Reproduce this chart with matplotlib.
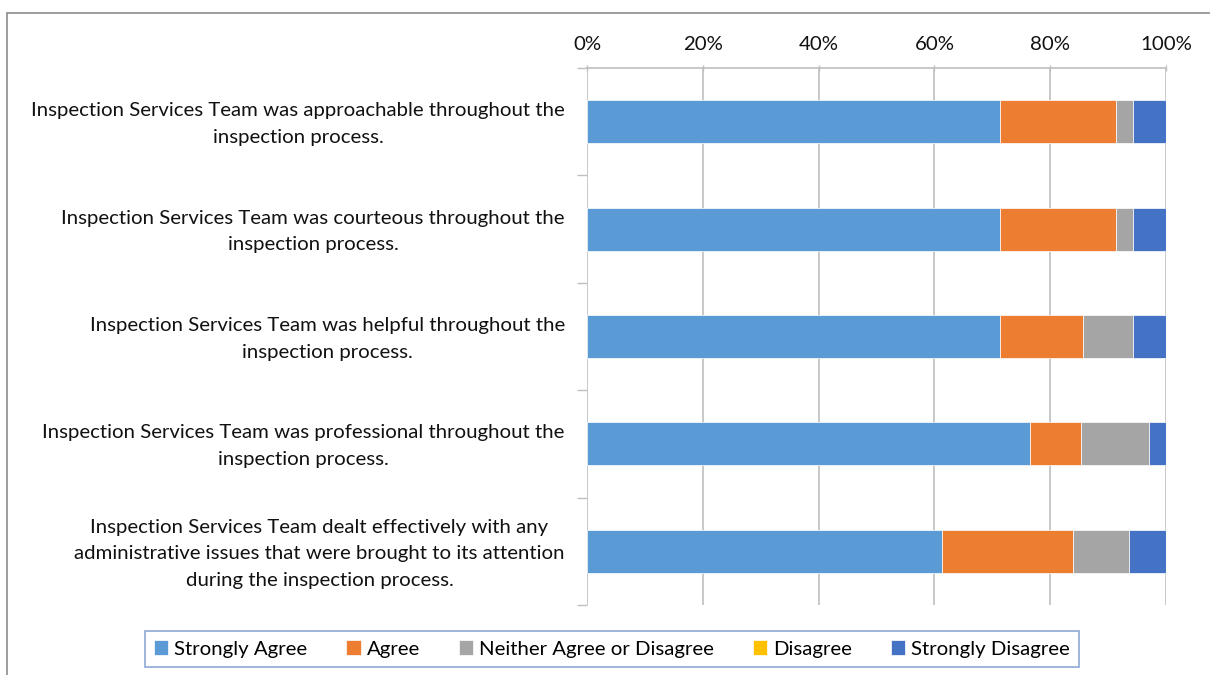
import matplotlib
matplotlib.use("Agg")
import matplotlib.pyplot as plt
import matplotlib.transforms as mtransforms
from matplotlib.patches import Rectangle
import numpy as np

categories = [
    "Inspection Services Team was approachable throughout the\ninspection process.",
    "Inspection Services Team was courteous throughout the\ninspection process.",
    "Inspection Services Team was helpful throughout the\ninspection process.",
    "Inspection Services Team was professional throughout the\ninspection process.",
    "Inspection Services Team dealt effectively with any\nadministrative issues that were brought to its attention\nduring the inspection process.",
]
series_names = ["Strongly Agree", "Agree", "Neither Agree or Disagree", "Disagree", "Strongly Disagree"]
strongly_agree = [71.4, 71.4, 71.4, 76.5, 61.3]
agree = [20.0, 20.0, 14.3, 8.8, 22.6]
neither = [2.9, 2.9, 8.6, 11.8, 9.7]
disagree = [0.0, 0.0, 0.0, 0.0, 0.0]
strongly_disagree = [5.7, 5.7, 5.7, 2.9, 6.5]
x_ticks = [0, 20, 40, 60, 80, 100]
x_tick_labels = ["0%", "20%", "40%", "60%", "80%", "100%"]
colors = ["#5B9BD5", "#ED7D31", "#A5A5A5", "#FFC000", "#4472C4"]

plt.rcParams['font.family'] = ['Lato', 'DejaVu Sans']
FS = 14.7

fig = plt.figure(figsize=(12.1, 6.75), dpi=100)
ax = fig.add_axes([587/1210, 1-605/675, 579/1210, 537/675])

# outer chart frame
fig.patches.append(Rectangle((7/1210, -0.1), 1.2, (1-13/675)+0.1, transform=fig.transFigure,
                             fill=False, edgecolor="#8C8C8C", linewidth=1.2))

y = np.arange(len(categories))
left = np.zeros(len(categories))
for name, vals, c in zip(series_names, [strongly_agree, agree, neither, disagree, strongly_disagree], colors):
    ax.barh(y, vals, left=left, height=0.4, color=c, label=name, edgecolor="white", linewidth=0.5, zorder=3)
    left = left + np.array(vals)

ax.set_xlim(0, 100)
ax.set_ylim(len(categories)-0.5, -0.5)
ax.xaxis.tick_top()
ax.set_xticks(x_ticks)
ax.set_xticklabels(x_tick_labels, fontsize=FS, color="#111111")
ax.tick_params(axis='x', which='major', length=5, direction='inout', color="#BFBFBF", width=1, pad=8, top=True, bottom=False)
ax.grid(axis='x', color="#BFBFBF", linewidth=1.2, zorder=0)

ax.set_yticks(y)
ax.set_yticklabels(categories, fontsize=FS, color="#111111", ha='right', multialignment='center', linespacing=1.68)
ax.tick_params(axis='y', which='major', length=0, pad=16)
ax.set_yticks(np.arange(-0.5, len(categories), 1.0), minor=True)
ax.tick_params(axis='y', which='minor', length=7, color="#BFBFBF", width=1)
shift = mtransforms.ScaledTranslation(0, 4/100, fig.dpi_scale_trans)
for lbl in ax.get_yticklabels():
    lbl.set_transform(lbl.get_transform() + shift)

for s in ['left', 'right', 'bottom']:
    ax.spines[s].set_visible(False)
ax.spines['top'].set_color("#BFBFBF")
ax.spines['top'].set_linewidth(1.2)

leg = fig.legend(loc='center', bbox_to_anchor=(612/1210, 1-649/675), ncol=5, fontsize=FS,
                 frameon=True, fancybox=False, edgecolor="#6F93C8", handlelength=0.7, handleheight=0.7,
                 handletextpad=0.3, columnspacing=1.9, borderpad=0.45)
leg.get_frame().set_linewidth(1.2)

fig.savefig("out.png", dpi=100)
